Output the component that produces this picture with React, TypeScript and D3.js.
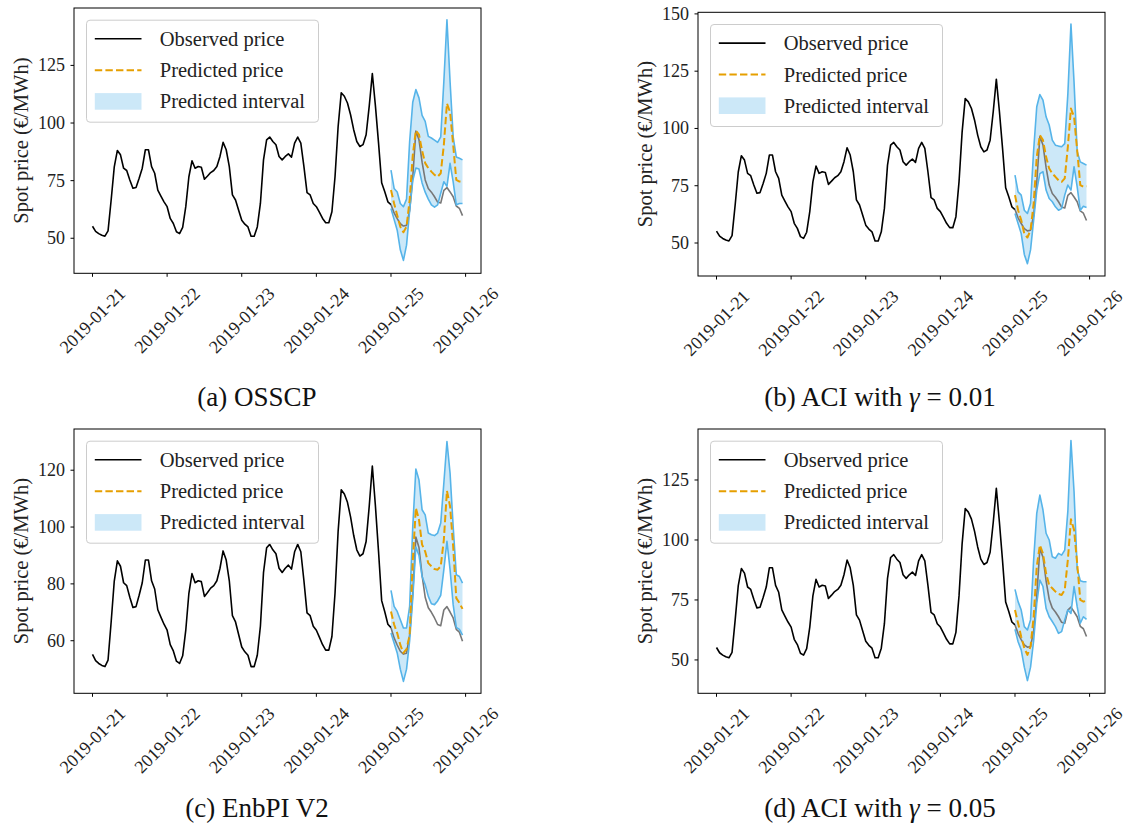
import React from 'react';
import * as d3 from 'd3';

// ---------- data ----------
const dateLabels = ['2019-01-21', '2019-01-22', '2019-01-23', '2019-01-24', '2019-01-25', '2019-01-26'];
const dateTickHours = [0, 24, 48, 72, 96, 120];

// hourly observed spot price, 2019-01-21 00:00 .. 2019-01-24 23:00
const observedPast = [
  55.2, 53, 52, 51.3, 50.9, 53.2, 66.6, 81, 88.1, 86.2, 80.4, 79.4, 75.3, 71.7, 72, 76, 80.4, 88.4, 88.4, 81.1, 78.2, 70.9, 68.3, 65.8,
  63.7, 58.6, 56.4, 52.8, 52, 54.7, 63.7, 76.7, 83.6, 80.4, 81.1, 80.8, 75.6, 77, 78.5, 79.4, 81.1, 85.5, 91.6, 88.4, 81.1, 68.8, 66.6, 62.2,
  57.8, 56.1, 54.9, 50.9, 50.9, 54.9, 65.1, 84, 92.7, 93.9, 92, 90.6, 85.5, 84, 85.5, 86.6, 85.2, 91.3, 93.9, 91.3, 81.1, 69.8, 68.8, 65.1,
  63.7, 61.2, 58.6, 56.7, 56.7, 61.5, 76.7, 98.5, 113.1, 111.6, 108.7, 103.6, 97.1, 92, 89.8, 90.6, 94.9, 107.3, 121.5, 107.3, 91.3, 74.1, 70.2, 65.8,
];
// hourly observed spot price on the forecast day 2019-01-25
const observedDay25 = [64.6, 61, 58.5, 56.3, 55.3, 55.6, 62, 76.5, 96.5, 92.8, 83, 75.3, 71.6, 70, 68, 65.7, 65.3, 70.8, 72, 70.1, 68, 64, 63, 59.8];

// (a) OSSCP
const osscpPred = [70.9, 65.1, 60, 55, 52.6, 55, 66.6, 86, 96.8, 95, 88, 82.6, 80.4, 78.9, 77.5, 76.7, 78.2, 90.5, 108.5, 104.7, 90.5, 75.3, 74.6, 74.6];
const osscpLower = [62.9, 58.2, 53.5, 45, 40.4, 47, 62, 75, 80.5, 80, 74, 70, 67, 64.5, 63.5, 64.5, 69.5, 74.5, 72.5, 82.5, 74.5, 64.5, 65.1, 65.1];
const osscpUpper = [79.6, 71.6, 70.1, 65.1, 63.7, 67, 92, 109, 114.5, 110.9, 103.3, 100.7, 94.2, 93.5, 92.6, 91.6, 94, 118, 144.8, 118, 94, 85.3, 84.7, 84];

// (b) ACI gamma = 0.01
const aci01Pred = [70.9, 64.3, 60, 54.1, 52.4, 55.6, 67.2, 87.6, 97.1, 94.9, 87.6, 82.5, 80.3, 78.9, 77.4, 76.7, 78.2, 92, 108.7, 105.1, 90.5, 75.3, 74.5, 74.8];
const aci01Lower = [62.9, 58.5, 54.1, 45, 41, 47, 60, 73, 80.3, 81.1, 73.1, 69.4, 68, 65.8, 64.3, 65, 70.9, 75.3, 73.1, 83.3, 74.5, 64.3, 66, 65.5];
const aci01Upper = [79.6, 72.3, 70.9, 64.3, 62.9, 67.2, 90.5, 109.5, 114.8, 112.4, 105.1, 101.5, 94.9, 92.7, 92.3, 92, 93.4, 115, 145.6, 120, 90, 85.4, 84.7, 84];

// (c) EnbPI V2
const enbpiPred = [70.3, 65.7, 62.7, 58.5, 55.7, 57, 62, 88, 106.7, 102.6, 93.8, 91.4, 87.3, 86.2, 85.2, 85, 86.2, 95.5, 112.8, 107.3, 93.2, 75, 73.3, 71.2];
const enbpiLower = [62.7, 59.2, 55.7, 50, 45.7, 50, 60, 75, 93, 90, 82.6, 79.7, 75.6, 73, 72.7, 74, 76, 85, 95, 85, 72.7, 64.7, 64, 62];
const enbpiUpper = [77.7, 72.1, 70.3, 67.4, 64.5, 64.5, 72.1, 100, 120.4, 116.6, 106.1, 104.3, 97.9, 97.3, 97, 97.9, 101.4, 115.5, 130.1, 119, 100.2, 83.2, 82.6, 80.3];

// (d) ACI gamma = 0.05
const aci05Pred = [70.8, 65.3, 59.7, 54.9, 52.1, 55.6, 68, 88.9, 97.9, 94.4, 86.1, 81.2, 79.9, 78.5, 77.5, 77.1, 79.2, 91.7, 108.6, 104.2, 90.3, 75, 74.3, 74.7];
const aci05Lower = [62.8, 57.6, 54.2, 47, 41.4, 47, 58, 73.6, 83.3, 80.6, 71.5, 68, 66, 63.9, 61.1, 61.8, 66.7, 70.8, 69.4, 80.6, 72.2, 65.3, 68, 66.9];
const aci05Upper = [79.4, 74.3, 70.8, 63.9, 62.5, 66.7, 91.7, 111.1, 118.7, 112.5, 102.8, 100, 93, 92.4, 94.4, 93.7, 95.8, 112, 141.4, 120, 88, 83, 82.6, 82.6];

const yTicksA = [50, 75, 100, 125];
const yTicksB = [50, 75, 100, 125, 150];
const yTicksC = [60, 80, 100, 120];
const yTicksD = [50, 75, 100, 125];

const legendLabels = ['Observed price', 'Predicted price', 'Predicted interval'];
const yAxisLabel = 'Spot price (€/MWh)';

// ---------- style ----------
const FONT = "'Liberation Serif', 'Times New Roman', 'DejaVu Serif', serif";
const BLUE = '#56B4E9';
const ORANGE = '#E69F00';
const GREY = '#777777';
const X_DOMAIN: [number, number] = [-5.95, 124.95];

type Frame = { x0: number; x1: number; y0: number; y1: number };
type PanelCfg = {
  frame: Frame;
  yDomain: [number, number];
  yTicks: number[];
  pred: number[];
  lower: number[];
  upper: number[];
  caption: React.ReactNode;
  capX: number;
  capY: number;
};

const panels: PanelCfg[] = [
  {
    frame: { x0: 74, x1: 481, y0: 8, y1: 273.3 },
    yDomain: [34.8, 149.9], yTicks: yTicksA,
    pred: osscpPred, lower: osscpLower, upper: osscpUpper,
    caption: <>(a) OSSCP</>, capX: 257, capY: 406,
  },
  {
    frame: { x0: 698, x1: 1105, y0: 12.3, y1: 276 },
    yDomain: [35.6, 150.7], yTicks: yTicksB,
    pred: aci01Pred, lower: aci01Lower, upper: aci01Upper,
    caption: <>(b) ACI with <tspan fontStyle="italic">γ</tspan> = 0.01</>, capX: 880, capY: 406,
  },
  {
    frame: { x0: 74, x1: 481, y0: 429, y1: 693.3 },
    yDomain: [41.5, 134.5], yTicks: yTicksC,
    pred: enbpiPred, lower: enbpiLower, upper: enbpiUpper,
    caption: <>(c) EnbPI V2</>, capX: 257, capY: 817,
  },
  {
    frame: { x0: 698, x1: 1105, y0: 429, y1: 693.3 },
    yDomain: [36.1, 146.25], yTicks: yTicksD,
    pred: aci05Pred, lower: aci05Lower, upper: aci05Upper,
    caption: <>(d) ACI with <tspan fontStyle="italic">γ</tspan> = 0.05</>, capX: 880, capY: 817,
  },
];

function Panel({ cfg }: { cfg: PanelCfg }) {
  const { x0, x1, y0, y1 } = cfg.frame;
  const xs = d3.scaleLinear().domain(X_DOMAIN).range([x0, x1]);
  const ys = d3.scaleLinear().domain(cfg.yDomain).range([y1, y0]);

  const past = [...observedPast, observedDay25[0]];
  const startFuture = observedPast.length;

  const linePast = d3.line<number>().x((_, i) => xs(i)).y((d) => ys(d))(past) || '';
  const lineFuture = d3.line<number>().x((_, i) => xs(startFuture + i)).y((d) => ys(d))(observedDay25) || '';
  const linePred = d3.line<number>().x((_, i) => xs(startFuture + i)).y((d) => ys(d))(cfg.pred) || '';
  const lineLow = d3.line<number>().x((_, i) => xs(startFuture + i)).y((d) => ys(d))(cfg.lower) || '';
  const lineUp = d3.line<number>().x((_, i) => xs(startFuture + i)).y((d) => ys(d))(cfg.upper) || '';
  const band = d3.area<number>()
    .x((_, i) => xs(startFuture + i))
    .y0((_, i) => ys(cfg.lower[i]))
    .y1((d) => ys(d))(cfg.upper) || '';

  const lgX = x0 + 12.5;
  const lgY = y0 + 12.2;
  const rows = [18.6, 50, 81.2];

  return (
    <g>
      {/* data */}
      <path d={linePast} fill="none" stroke="#000" strokeWidth={1.6} strokeLinejoin="round" />
      <path d={band} fill={BLUE} fillOpacity={0.3} stroke="none" />
      <path d={lineFuture} fill="none" stroke={GREY} strokeWidth={1.6} strokeLinejoin="round" />
      <path d={lineLow} fill="none" stroke={BLUE} strokeWidth={1.6} strokeLinejoin="round" />
      <path d={lineUp} fill="none" stroke={BLUE} strokeWidth={1.6} strokeLinejoin="round" />
      <path d={linePred} fill="none" stroke={ORANGE} strokeWidth={2} strokeDasharray="7.4,3.2" strokeLinejoin="round" />

      {/* frame */}
      <rect x={x0} y={y0} width={x1 - x0} height={y1 - y0} fill="none" stroke="#000" strokeWidth={1} />

      {/* y ticks */}
      {cfg.yTicks.map((t) => (
        <g key={'y' + t}>
          <line x1={x0 - 3.5} x2={x0} y1={ys(t)} y2={ys(t)} stroke="#000" strokeWidth={1} />
          <text x={x0 - 9} y={ys(t)} textAnchor="end" dominantBaseline="central" fontFamily={FONT} fontSize={18} fill="#222">{t}</text>
        </g>
      ))}

      {/* x ticks */}
      {dateTickHours.map((h, i) => (
        <g key={'x' + h}>
          <line x1={xs(h)} x2={xs(h)} y1={y1} y2={y1 + 3.5} stroke="#000" strokeWidth={1} />
          <text
            transform={`translate(${xs(h)},${y1 + 47}) rotate(-45)`}
            textAnchor="middle"
            dominantBaseline="central"
            fontFamily={FONT}
            fontSize={18}
            fill="#222"
          >
            {dateLabels[i]}
          </text>
        </g>
      ))}

      {/* y label */}
      <text
        transform={`translate(${x0 - 53.5},${(y0 + y1) / 2}) rotate(-90)`}
        textAnchor="middle"
        dominantBaseline="central"
        fontFamily={FONT}
        fontSize={20.5}
        fill="#222"
      >
        {yAxisLabel}
      </text>

      {/* legend */}
      <rect x={lgX} y={lgY} width={232} height={102} rx={3.5} fill="#fff" fillOpacity={0.8} stroke="#cccccc" strokeWidth={1} />
      <line x1={lgX + 8.3} x2={lgX + 55} y1={lgY + rows[0]} y2={lgY + rows[0]} stroke="#000" strokeWidth={1.6} />
      <line x1={lgX + 8.3} x2={lgX + 55} y1={lgY + rows[1]} y2={lgY + rows[1]} stroke={ORANGE} strokeWidth={2} strokeDasharray="7.4,3.2" />
      <rect x={lgX + 8.3} y={lgY + rows[2] - 8.3} width={46.7} height={16.6} fill={BLUE} fillOpacity={0.3} />
      {legendLabels.map((l, i) => (
        <text key={l} x={lgX + 73.3} y={lgY + rows[i]} dominantBaseline="central" fontFamily={FONT} fontSize={20.5} fill="#222">{l}</text>
      ))}

      {/* caption */}
      <text x={cfg.capX} y={cfg.capY} textAnchor="middle" fontFamily={FONT} fontSize={27} fill="#111">{cfg.caption}</text>
    </g>
  );
}

export default function App() {
  return (
    <svg
      width={1133}
      height={834}
      viewBox="0 0 1133 834"
      style={{ position: 'absolute', left: 0, top: 0, background: '#fff' }}
    >
      <rect x={0} y={0} width={1133} height={834} fill="#fff" />
      {panels.map((p, i) => (
        <Panel key={i} cfg={p} />
      ))}
    </svg>
  );
}
